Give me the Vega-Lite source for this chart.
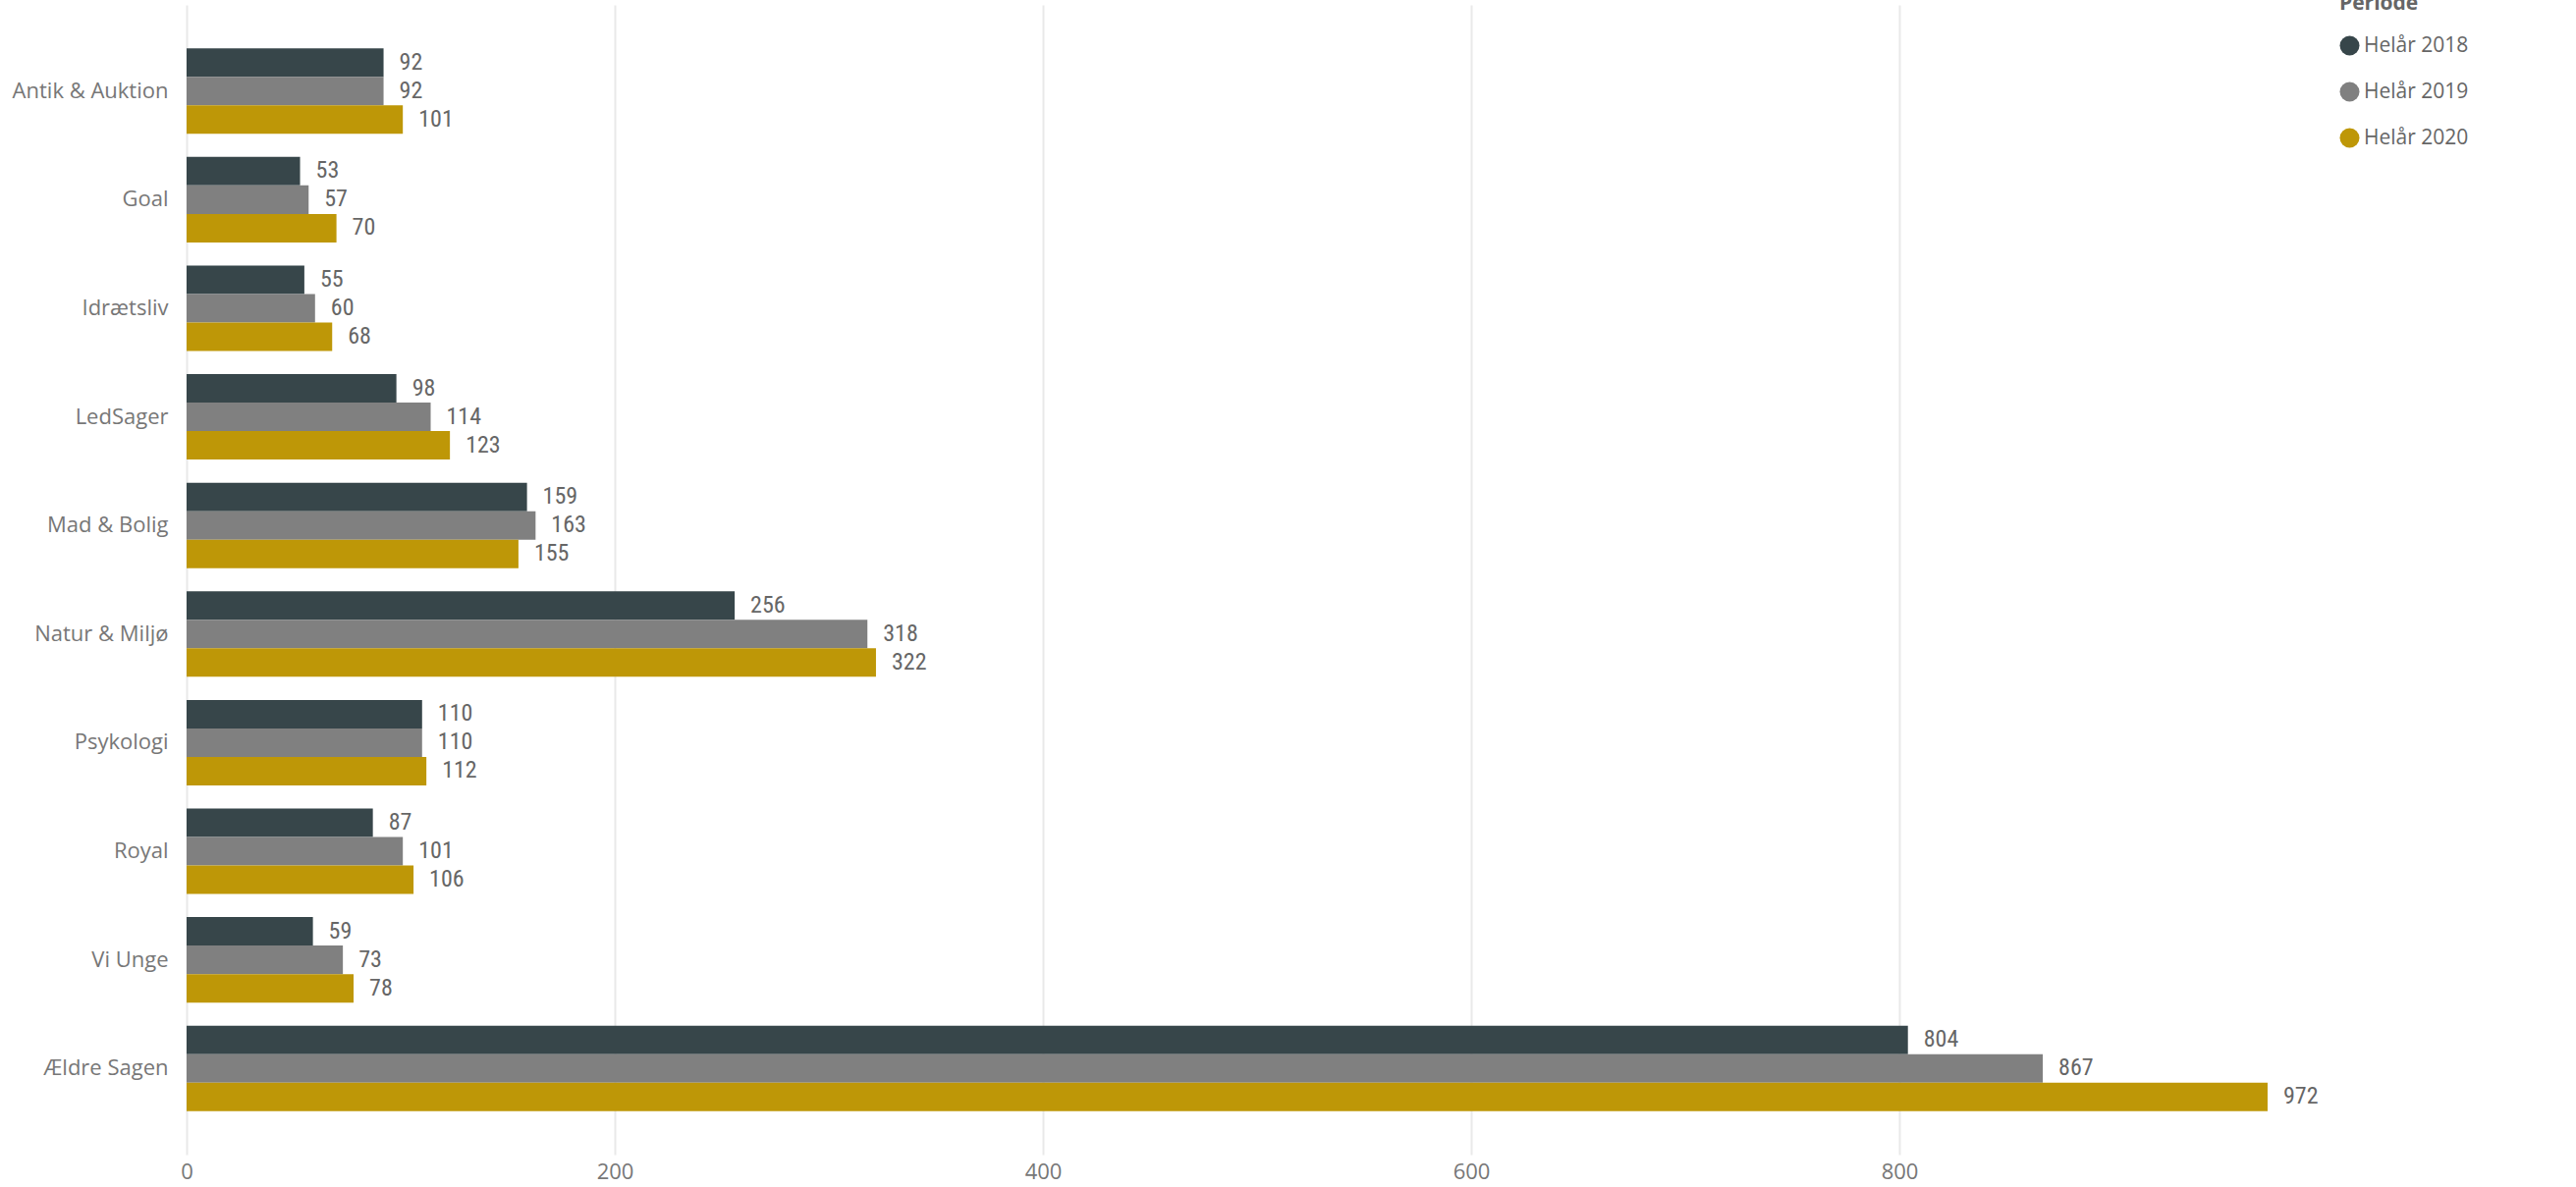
{
  "$schema": "https://vega.github.io/schema/vega-lite/v6.json",
  "autosize": "none",
  "padding": {"left": 190, "top": 5, "right": 253, "bottom": 33},
  "width": 2180,
  "height": 1171,
  "background": "white",
  "data": {"values": [
    {"Kategori": "Antik & Auktion", "Periode": "Helår 2018", "Antal": 92},
    {"Kategori": "Antik & Auktion", "Periode": "Helår 2019", "Antal": 92},
    {"Kategori": "Antik & Auktion", "Periode": "Helår 2020", "Antal": 101},
    {"Kategori": "Goal", "Periode": "Helår 2018", "Antal": 53},
    {"Kategori": "Goal", "Periode": "Helår 2019", "Antal": 57},
    {"Kategori": "Goal", "Periode": "Helår 2020", "Antal": 70},
    {"Kategori": "Idrætsliv", "Periode": "Helår 2018", "Antal": 55},
    {"Kategori": "Idrætsliv", "Periode": "Helår 2019", "Antal": 60},
    {"Kategori": "Idrætsliv", "Periode": "Helår 2020", "Antal": 68},
    {"Kategori": "LedSager", "Periode": "Helår 2018", "Antal": 98},
    {"Kategori": "LedSager", "Periode": "Helår 2019", "Antal": 114},
    {"Kategori": "LedSager", "Periode": "Helår 2020", "Antal": 123},
    {"Kategori": "Mad & Bolig", "Periode": "Helår 2018", "Antal": 159},
    {"Kategori": "Mad & Bolig", "Periode": "Helår 2019", "Antal": 163},
    {"Kategori": "Mad & Bolig", "Periode": "Helår 2020", "Antal": 155},
    {"Kategori": "Natur & Miljø", "Periode": "Helår 2018", "Antal": 256},
    {"Kategori": "Natur & Miljø", "Periode": "Helår 2019", "Antal": 318},
    {"Kategori": "Natur & Miljø", "Periode": "Helår 2020", "Antal": 322},
    {"Kategori": "Psykologi", "Periode": "Helår 2018", "Antal": 110},
    {"Kategori": "Psykologi", "Periode": "Helår 2019", "Antal": 110},
    {"Kategori": "Psykologi", "Periode": "Helår 2020", "Antal": 112},
    {"Kategori": "Royal", "Periode": "Helår 2018", "Antal": 87},
    {"Kategori": "Royal", "Periode": "Helår 2019", "Antal": 101},
    {"Kategori": "Royal", "Periode": "Helår 2020", "Antal": 106},
    {"Kategori": "Vi Unge", "Periode": "Helår 2018", "Antal": 59},
    {"Kategori": "Vi Unge", "Periode": "Helår 2019", "Antal": 73},
    {"Kategori": "Vi Unge", "Periode": "Helår 2020", "Antal": 78},
    {"Kategori": "Ældre Sagen", "Periode": "Helår 2018", "Antal": 804},
    {"Kategori": "Ældre Sagen", "Periode": "Helår 2019", "Antal": 867},
    {"Kategori": "Ældre Sagen", "Periode": "Helår 2020", "Antal": 972}
  ]},
  "encoding": {
    "y": {
      "field": "Kategori", "type": "nominal",
      "sort": ["Antik & Auktion", "Goal", "Idrætsliv", "LedSager", "Mad & Bolig", "Natur & Miljø", "Psykologi", "Royal", "Vi Unge", "Ældre Sagen"],
      "scale": {"paddingInner": 0.213, "paddingOuter": 0.4},
      "axis": {"title": null, "domain": false, "ticks": false, "labelPadding": 19, "labelFont": "Open Sans", "labelFontSize": 22, "labelColor": "#777777", "grid": false}
    },
    "yOffset": {"field": "Periode", "type": "nominal", "scale": {"paddingInner": 0, "paddingOuter": 0}},
    "x": {
      "field": "Antal", "type": "quantitative",
      "scale": {"domain": [0, 1000], "nice": false},
      "axis": {"title": null, "values": [0, 200, 400, 600, 800], "labelFlush": false, "domain": false, "ticks": false, "labelPadding": 7, "labelFont": "Open Sans", "labelFontSize": 22, "labelColor": "#777777", "gridColor": "#e9e9e9", "gridWidth": 2}
    }
  },
  "layer": [
    {
      "mark": {"type": "bar"},
      "encoding": {
        "color": {
          "field": "Periode", "type": "nominal",
          "scale": {"domain": ["Helår 2018", "Helår 2019", "Helår 2020"], "range": ["#37464A", "#808080", "#BE9707"]},
          "legend": {
            "orient": "none", "legendX": 2192, "legendY": -12,
            "title": "Periode", "titleFont": "Open Sans", "titleFontSize": 21, "titleFontWeight": "bold", "titleColor": "#666666", "titlePadding": 22,
            "symbolType": "circle", "symbolSize": 400, "symbolStrokeWidth": 0, "symbolOpacity": 1,
            "labelFont": "Open Sans", "labelFontSize": 21, "labelColor": "#666666", "labelOffset": 4, "rowPadding": 25
          }
        }
      }
    },
    {
      "mark": {"type": "text", "align": "left", "baseline": "middle", "dx": 16, "font": "Liberation Sans Narrow, Roboto Condensed, Roboto, sans-serif", "fontSize": 24, "fill": "#666666"},
      "encoding": {"text": {"field": "Antal", "type": "quantitative"}}
    }
  ],
  "config": {"view": {"stroke": null}}
}
